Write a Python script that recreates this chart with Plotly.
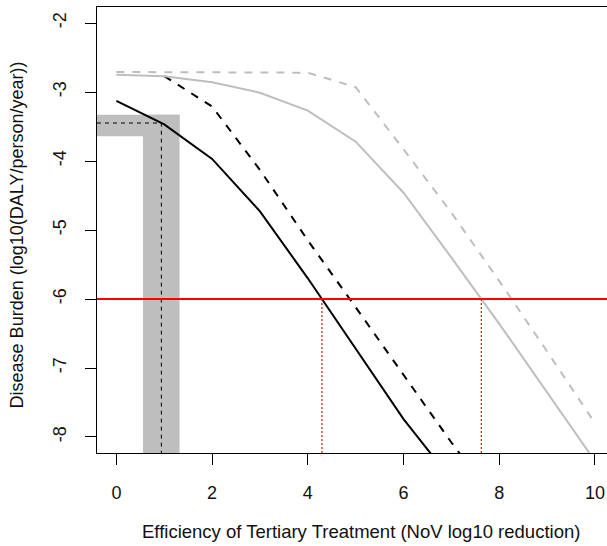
import numpy as np
import plotly.graph_objects as go

# Disease burden curves vs. tertiary treatment efficiency
x_solid_black = [0, 1, 2, 3, 4, 5, 6, 7]
y_solid_black = [-3.13, -3.47, -3.97, -4.73, -5.70, -6.72, -7.74, -8.62]

x_dash_black = [1, 2, 3, 4, 5, 6, 7, 8]
y_dash_black = [-2.77, -3.21, -4.13, -5.15, -6.12, -7.10, -8.08, -9.00]

x_solid_grey = [0, 1, 2, 3, 4, 5, 6, 7, 8, 9, 10]
y_solid_grey = [-2.75, -2.77, -2.86, -3.01, -3.27, -3.72, -4.46, -5.40, -6.36, -7.36, -8.35]

x_dash_grey = [0, 1, 2, 3, 4, 5, 6, 7, 8, 9, 10]
y_dash_grey = [-2.71, -2.71, -2.71, -2.71, -2.72, -2.93, -3.83, -4.75, -5.74, -6.76, -7.80]

# Health target and current-treatment band
target = -6.0
band_x = [0.556, 1.32]
band_y = [-3.64, -3.33]
cross_x = 0.94

x_ticks = [0, 2, 4, 6, 8, 10]
x_tick_labels = ["0", "2", "4", "6", "8", "10"]
y_ticks = [-8, -7, -6, -5, -4, -3, -2]
y_tick_labels = ["-8", "-7", "-6", "-5", "-4", "-3", "-2"]

x_range = [-0.405, 10.251]
y_range = [-8.232, -1.768]

GREY = "#BEBEBE"
FONT = "Liberation Sans, Arial, sans-serif"


def cross_at(xs, ys, level):
    # x where a decreasing piecewise-linear curve reaches `level`
    return float(np.interp(level, ys[::-1], xs[::-1]))


cross_y = float(np.interp(cross_x, x_solid_black, y_solid_black))
x_hit_black = cross_at(x_solid_black, y_solid_black, target)
x_hit_grey = cross_at(x_solid_grey, y_solid_grey, target)

fig = go.Figure()

# crosshair at the current treatment level
fig.add_trace(go.Scatter(x=[x_range[0], cross_x, cross_x], y=[cross_y, cross_y, y_range[0]],
                         mode="lines", line=dict(color="black", width=1, dash="4px,4px")))

# curves
fig.add_trace(go.Scatter(x=x_dash_black, y=y_dash_black, mode="lines",
                         line=dict(color="black", width=2, dash="8px,8px")))
fig.add_trace(go.Scatter(x=x_solid_black, y=y_solid_black, mode="lines",
                         line=dict(color="black", width=2)))
fig.add_trace(go.Scatter(x=x_dash_grey, y=y_dash_grey, mode="lines",
                         line=dict(color=GREY, width=2, dash="8px,8px")))
fig.add_trace(go.Scatter(x=x_solid_grey, y=y_solid_grey, mode="lines",
                         line=dict(color=GREY, width=2)))

# target line and drop lines to the x axis
fig.add_trace(go.Scatter(x=[x_range[0], x_range[1]], y=[target, target], mode="lines",
                         line=dict(color="#FF0000", width=2)))
for xh in (x_hit_black, x_hit_grey):
    fig.add_trace(go.Scatter(x=[xh, xh], y=[target, y_range[0]], mode="lines",
                             line=dict(color="#FF0000", width=1.2, dash="2px,2px")))

# shaded band (L-shape)
fig.add_shape(type="rect", xref="x", yref="y", x0=x_range[0], x1=band_x[1],
              y0=band_y[0], y1=band_y[1], fillcolor=GREY, line_width=0, layer="below")
fig.add_shape(type="rect", xref="x", yref="y", x0=band_x[0], x1=band_x[1],
              y0=y_range[0], y1=band_y[1], fillcolor=GREY, line_width=0, layer="below")

fig.update_layout(
    width=607, height=546,
    margin=dict(l=97, r=0, t=7, b=93),
    paper_bgcolor="white", plot_bgcolor="white",
    showlegend=False,
    font=dict(family=FONT, size=18, color="black"),
    xaxis=dict(range=x_range, tickvals=x_ticks, ticktext=x_tick_labels,
               showgrid=False, zeroline=False, showline=True, mirror=True,
               linecolor="black", linewidth=1, ticks="outside", ticklen=11,
               tickcolor="black", tickwidth=1, ticklabelstandoff=12,
               tickfont=dict(family=FONT, size=18, color="#111")),
    yaxis=dict(range=y_range, tickvals=y_ticks, ticktext=y_tick_labels,
               showgrid=False, zeroline=False, showline=True,
               linecolor="black", linewidth=1, ticks="outside", ticklen=11,
               tickcolor="black", tickwidth=1, tickangle=-90, ticklabelstandoff=12,
               tickfont=dict(family=FONT, size=18, color="#111")),
    annotations=[
        dict(text="Efficiency of Tertiary Treatment (NoV log10 reduction)",
             xref="paper", yref="paper", x=0.517, y=-0.175,
             xanchor="center", yanchor="middle", showarrow=False,
             font=dict(family=FONT, size=18.5, color="#111")),
        dict(text="Disease Burden (log10(DALY/person/year))",
             xref="paper", yref="paper", x=-0.155, y=0.49, textangle=-90,
             xanchor="center", yanchor="middle", showarrow=False,
             font=dict(family=FONT, size=18, color="#111")),
    ],
)

fig.write_html("out.html")
